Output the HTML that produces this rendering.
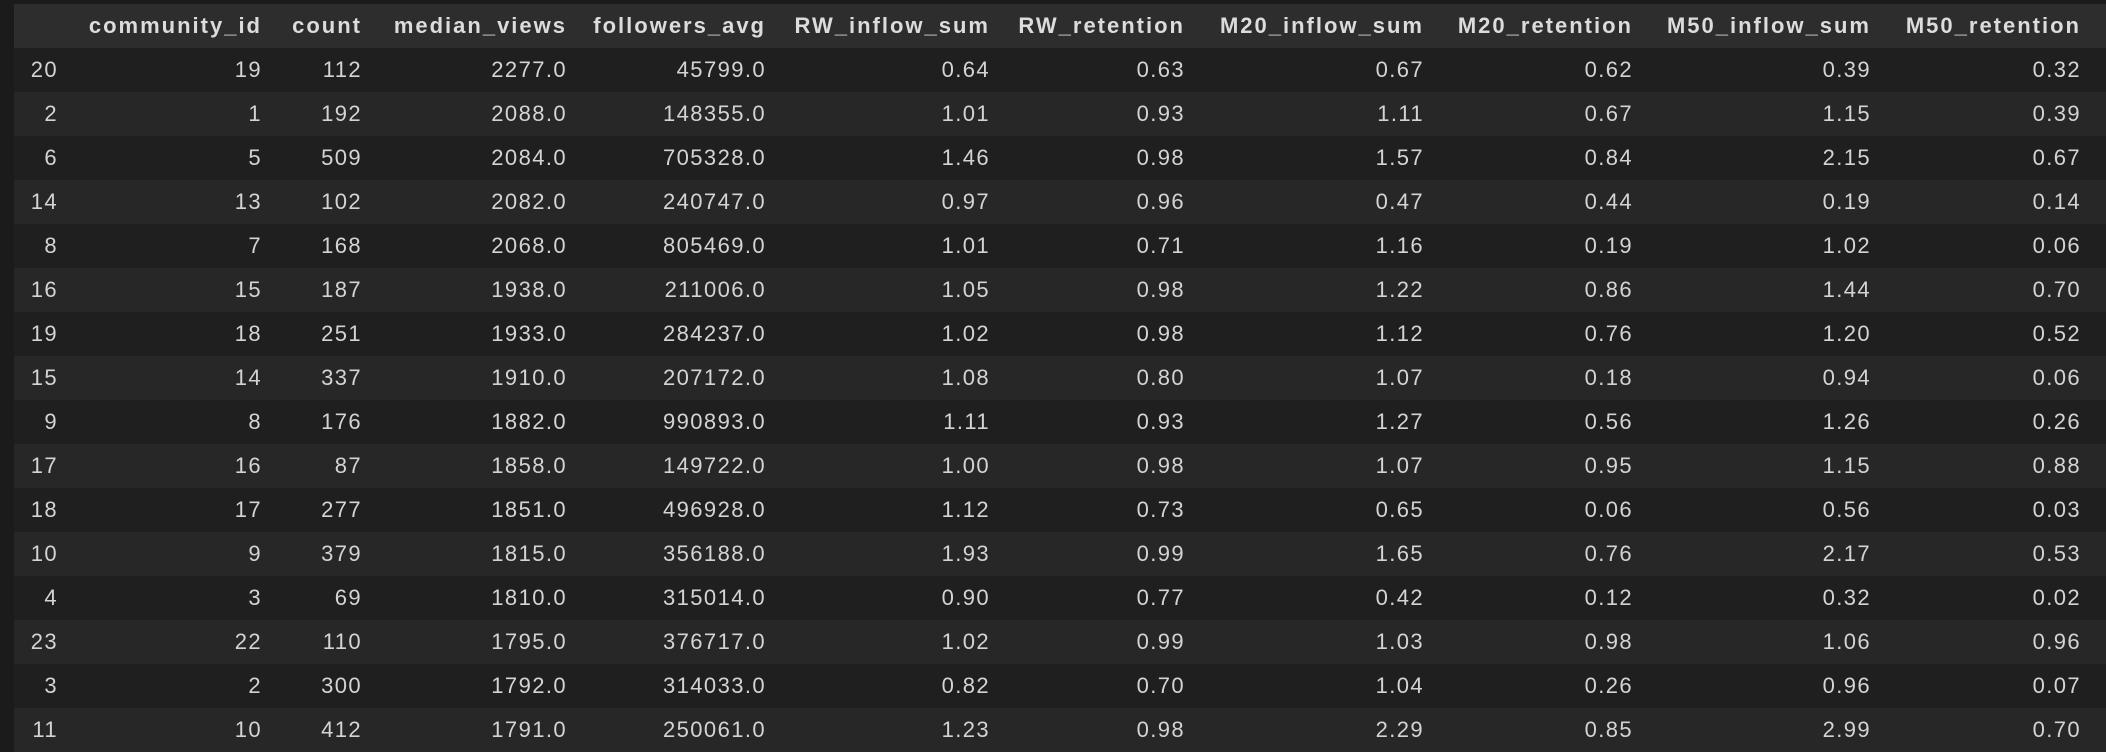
<!DOCTYPE html>
<html><head><meta charset="utf-8">
<style>
html,body{margin:0;padding:0;width:2106px;height:750px;overflow:hidden;background:#1b1b1b;}
table{position:absolute;left:14px;top:4px;width:2092px;border-collapse:collapse;table-layout:fixed;
 font-family:"Liberation Sans",sans-serif;}
th,td{padding:0;text-align:right;white-space:nowrap;overflow:visible;}
th{height:44px;background:#2d2d2d;color:#dcdcdc;font-weight:bold;font-size:22px;letter-spacing:2px;}
td{height:44px;color:#d4d4d4;font-size:22px;letter-spacing:1.4px;}
tbody tr:nth-child(odd) td{background:#1f1f1f;}
tbody tr:nth-child(even) td{background:#272727;}
</style></head><body>
<table>
<colgroup>
<col style="width:44px"><col style="width:204px"><col style="width:100px"><col style="width:205px"><col style="width:199px"><col style="width:224px"><col style="width:195px"><col style="width:239px"><col style="width:209px"><col style="width:238px"><col style="width:210px"><col style="width:25px">
</colgroup>
<thead><tr>
<th></th><th>community_id</th><th>count</th><th>median_views</th><th>followers_avg</th><th>RW_inflow_sum</th><th>RW_retention</th><th>M20_inflow_sum</th><th>M20_retention</th><th>M50_inflow_sum</th><th>M50_retention</th><th></th>
</tr></thead>
<tbody>
<tr><td>20</td><td>19</td><td>112</td><td>2277.0</td><td>45799.0</td><td>0.64</td><td>0.63</td><td>0.67</td><td>0.62</td><td>0.39</td><td>0.32</td><td></td></tr>
<tr><td>2</td><td>1</td><td>192</td><td>2088.0</td><td>148355.0</td><td>1.01</td><td>0.93</td><td>1.11</td><td>0.67</td><td>1.15</td><td>0.39</td><td></td></tr>
<tr><td>6</td><td>5</td><td>509</td><td>2084.0</td><td>705328.0</td><td>1.46</td><td>0.98</td><td>1.57</td><td>0.84</td><td>2.15</td><td>0.67</td><td></td></tr>
<tr><td>14</td><td>13</td><td>102</td><td>2082.0</td><td>240747.0</td><td>0.97</td><td>0.96</td><td>0.47</td><td>0.44</td><td>0.19</td><td>0.14</td><td></td></tr>
<tr><td>8</td><td>7</td><td>168</td><td>2068.0</td><td>805469.0</td><td>1.01</td><td>0.71</td><td>1.16</td><td>0.19</td><td>1.02</td><td>0.06</td><td></td></tr>
<tr><td>16</td><td>15</td><td>187</td><td>1938.0</td><td>211006.0</td><td>1.05</td><td>0.98</td><td>1.22</td><td>0.86</td><td>1.44</td><td>0.70</td><td></td></tr>
<tr><td>19</td><td>18</td><td>251</td><td>1933.0</td><td>284237.0</td><td>1.02</td><td>0.98</td><td>1.12</td><td>0.76</td><td>1.20</td><td>0.52</td><td></td></tr>
<tr><td>15</td><td>14</td><td>337</td><td>1910.0</td><td>207172.0</td><td>1.08</td><td>0.80</td><td>1.07</td><td>0.18</td><td>0.94</td><td>0.06</td><td></td></tr>
<tr><td>9</td><td>8</td><td>176</td><td>1882.0</td><td>990893.0</td><td>1.11</td><td>0.93</td><td>1.27</td><td>0.56</td><td>1.26</td><td>0.26</td><td></td></tr>
<tr><td>17</td><td>16</td><td>87</td><td>1858.0</td><td>149722.0</td><td>1.00</td><td>0.98</td><td>1.07</td><td>0.95</td><td>1.15</td><td>0.88</td><td></td></tr>
<tr><td>18</td><td>17</td><td>277</td><td>1851.0</td><td>496928.0</td><td>1.12</td><td>0.73</td><td>0.65</td><td>0.06</td><td>0.56</td><td>0.03</td><td></td></tr>
<tr><td>10</td><td>9</td><td>379</td><td>1815.0</td><td>356188.0</td><td>1.93</td><td>0.99</td><td>1.65</td><td>0.76</td><td>2.17</td><td>0.53</td><td></td></tr>
<tr><td>4</td><td>3</td><td>69</td><td>1810.0</td><td>315014.0</td><td>0.90</td><td>0.77</td><td>0.42</td><td>0.12</td><td>0.32</td><td>0.02</td><td></td></tr>
<tr><td>23</td><td>22</td><td>110</td><td>1795.0</td><td>376717.0</td><td>1.02</td><td>0.99</td><td>1.03</td><td>0.98</td><td>1.06</td><td>0.96</td><td></td></tr>
<tr><td>3</td><td>2</td><td>300</td><td>1792.0</td><td>314033.0</td><td>0.82</td><td>0.70</td><td>1.04</td><td>0.26</td><td>0.96</td><td>0.07</td><td></td></tr>
<tr><td>11</td><td>10</td><td>412</td><td>1791.0</td><td>250061.0</td><td>1.23</td><td>0.98</td><td>2.29</td><td>0.85</td><td>2.99</td><td>0.70</td><td></td></tr>
</tbody>
</table>
</body></html>
